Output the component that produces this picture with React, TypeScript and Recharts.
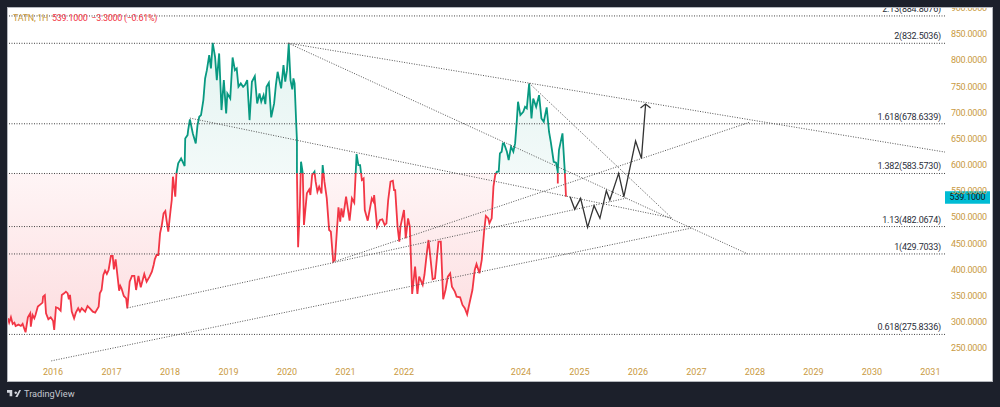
import {
  Area,
  ComposedChart,
  Line,
  ReferenceLine,
  XAxis,
  YAxis,
} from 'recharts';

const FONT = 'Roboto, sans-serif';
const UP = '#089981';
const DOWN = '#f23645';
const AXIS_TEXT = '#c99a3f';
const BASELINE = 583.573;

const priceYears = [
  2015.23, 2015.25, 2015.28, 2015.31, 2015.34, 2015.36, 2015.41, 2015.45, 2015.48, 2015.53, 2015.57, 2015.61, 2015.62,
  2015.65, 2015.68, 2015.7, 2015.74, 2015.78, 2015.82, 2015.83, 2015.86, 2015.88, 2015.92, 2015.96, 2016.0, 2016.02,
  2016.05, 2016.09, 2016.13, 2016.15, 2016.19, 2016.22, 2016.25, 2016.27, 2016.29, 2016.32, 2016.36, 2016.39, 2016.43,
  2016.46, 2016.49, 2016.55, 2016.59, 2016.63, 2016.68, 2016.72, 2016.78, 2016.8, 2016.83, 2016.86, 2016.89, 2016.92,
  2016.95, 2016.99, 2017.02, 2017.04, 2017.07, 2017.1, 2017.13, 2017.15, 2017.17, 2017.21, 2017.25, 2017.27, 2017.31,
  2017.35, 2017.39, 2017.42, 2017.46, 2017.5, 2017.56, 2017.6, 2017.65, 2017.69, 2017.72, 2017.74, 2017.77, 2017.8,
  2017.83, 2017.86, 2017.89, 2017.92, 2017.94, 2017.97, 2018.01, 2018.03, 2018.05, 2018.09, 2018.11, 2018.14, 2018.19,
  2018.25, 2018.26, 2018.3, 2018.31, 2018.34, 2018.39, 2018.44, 2018.47, 2018.5, 2018.53, 2018.57, 2018.6, 2018.63,
  2018.67, 2018.7, 2018.73, 2018.77, 2018.8, 2018.84, 2018.88, 2018.92, 2018.96, 2018.98, 2019.03, 2019.07, 2019.11,
  2019.14, 2019.17, 2019.21, 2019.25, 2019.28, 2019.32, 2019.36, 2019.4, 2019.45, 2019.49, 2019.53, 2019.56, 2019.6,
  2019.63, 2019.65, 2019.69, 2019.73, 2019.78, 2019.81, 2019.84, 2019.87, 2019.9, 2019.94, 2019.97, 2020.0, 2020.03,
  2020.06, 2020.09, 2020.11, 2020.13, 2020.16, 2020.17, 2020.17, 2020.19, 2020.22, 2020.24, 2020.27, 2020.29, 2020.34,
  2020.38, 2020.4, 2020.43, 2020.47, 2020.49, 2020.52, 2020.55, 2020.59, 2020.61, 2020.64, 2020.68, 2020.72, 2020.75,
  2020.79, 2020.82, 2020.88, 2020.91, 2020.93, 2020.96, 2021.01, 2021.07, 2021.11, 2021.15, 2021.19, 2021.22, 2021.25,
  2021.28, 2021.31, 2021.33, 2021.38, 2021.45, 2021.48, 2021.49, 2021.54, 2021.59, 2021.63, 2021.67, 2021.7, 2021.73,
  2021.77, 2021.81, 2021.83, 2021.85, 2021.89, 2021.92, 2021.94, 2022.0, 2022.03, 2022.07, 2022.1, 2022.14, 2022.19,
  2022.23, 2022.26, 2022.32, 2022.35, 2022.39, 2022.42, 2022.45, 2022.49, 2022.53, 2022.59, 2022.63, 2022.67, 2022.71,
  2022.75, 2022.79, 2022.82, 2022.87, 2022.9, 2022.96, 2023.0, 2023.04, 2023.08, 2023.12, 2023.17, 2023.21, 2023.24,
  2023.29, 2023.33, 2023.37, 2023.4, 2023.44, 2023.46, 2023.5, 2023.53, 2023.56, 2023.59, 2023.62, 2023.64, 2023.67,
  2023.69, 2023.71, 2023.76, 2023.79, 2023.83, 2023.87, 2023.9, 2023.93, 2023.95, 2023.99, 2024.04, 2024.07, 2024.1,
  2024.14, 2024.18, 2024.21, 2024.26, 2024.31, 2024.35, 2024.39, 2024.44, 2024.48, 2024.51, 2024.56, 2024.6, 2024.63,
  2024.63, 2024.63, 2024.65, 2024.71, 2024.75, 2024.77,
];

const priceValues = [
  306.7, 298.4, 308.6, 295.8, 298.4, 292, 294.6, 292, 296, 280, 308.6, 316.2, 290.7,
  313, 306.7, 313, 329, 332.8, 336.6, 348, 351, 316, 304.8, 308.6, 302, 284.4,
  327.7, 325.8, 321.3, 351.3, 354.4, 357.6, 354.4, 343, 351.3, 319.4, 306.7, 317.5, 325.8,
  319.4, 325.8, 319.4, 330.2, 325.8, 319.4, 317.5, 329, 354.4, 360.8, 389.5, 397.8, 391.4,
  399, 425.8, 425.8, 400.3, 419.4, 389.5, 359.5, 368.5, 364, 349.3, 344.9, 325.8, 376.7,
  387.6, 387.6, 360.8, 387.6, 365.9, 391.4, 376.7, 386.3, 395.8, 408.6, 419.4, 427.7, 427.7,
  469, 485, 507.3, 511.8, 494.6, 472.3, 513.7, 532.8, 577.4, 539.2, 583.8, 602.9, 612.4,
  597.8, 650.6, 657, 666.6, 687, 660.2, 641, 676.1, 692, 695.2, 723.9, 765.3, 781.2,
  809.9, 784.4, 833.5, 806.7, 762.1, 813.1, 704.8, 762.1, 698.4, 736.6, 727.1, 805.4, 781.2,
  784.4, 749.4, 755.8, 749.4, 752.6, 762.1, 685.7, 759, 769.8, 717.5, 736.6, 720.7, 733.5,
  716.3, 749.4, 757, 690.8, 717.5, 752.6, 778, 762.1, 746.2, 790.8, 759, 781.2, 830.9,
  762.1, 744.3, 765.3, 755.8, 672.9, 647.5, 583.8, 442.4, 520.1, 606.1, 583.8, 485, 545.6,
  553.2, 542.4, 580.6, 587, 567.9, 548.8, 558.3, 545.6, 599.7, 567.9, 536, 475.5, 472.3,
  415, 418.2, 518.8, 491.4, 516.9, 499.7, 539.2, 493.3, 536, 527.7, 620.7, 599.7, 599.7,
  571.1, 574.2, 513.7, 493.3, 536, 529.6, 542.4, 481.9, 494.6, 495.9, 485, 488.2, 532.8,
  567.9, 569.8, 551.9, 551.9, 481.9, 453.2, 481.9, 513.7, 459.6, 497.8, 481.9, 353.2, 405.4,
  353.2, 386.3, 370.4, 389.5, 430.9, 456.4, 424.5, 381.2, 383.1, 453.2, 453.2, 343, 360.8,
  386.3, 392.7, 367.2, 357.6, 348.1, 346.8, 332.2, 325.8, 314.3, 335.4, 360.8, 399, 410.5,
  392.7, 418.2, 472.3, 502.3, 497.8, 488.2, 497.8, 558.3, 580.6, 587, 587, 622, 625.2,
  641.1, 641.1, 625.2, 609.3, 634.8, 625.2, 641.1, 685.6, 720.7, 695.2, 701.6, 711.1, 708,
  755.7, 688.8, 727, 711.1, 733.4, 688.8, 682.5, 709.9, 663.4, 644.2, 606, 604.1, 586.9,
  564.6, 590.1, 628.3, 660.2, 586.9, 539.1,
];

const projectionYears = [2024.84, 2024.92, 2025.02, 2025.14, 2025.25, 2025.35, 2025.46, 2025.52, 2025.67, 2025.76, 2025.96, 2026.06, 2026.13];
const projectionValues = [539.1, 515, 536, 480.6, 522, 497.8, 550.6, 532.8, 583.8, 539.1, 645.6, 612.5, 714.4];

const fibLevels = [
  { value: 884.8076, label: '2.13(884.8076)' },
  { value: 832.5036, label: '2(832.5036)' },
  { value: 678.6339, label: '1.618(678.6339)' },
  { value: 583.573, label: '1.382(583.5730)' },
  { value: 482.0674, label: '1.13(482.0674)' },
  { value: 429.7033, label: '1(429.7033)' },
  { value: 275.8336, label: '0.618(275.8336)' },
];

// [year, price, year, price]
const trendLines = [
  [2020.02, 832.8, 2031.25, 624.5],
  [2020.02, 832.8, 2027.88, 429.6],
  [2024.14, 756.4, 2026.58, 498.4],
  [2018.34, 689.5, 2026.58, 498.4],
  [2017.27, 326.4, 2025.81, 536.6],
  [2020.79, 414.3, 2027.92, 681.9],
  [2015.97, 225.2, 2026.92, 479.3],
];

const yearTicks = [2016, 2017, 2018, 2019, 2020, 2021, 2022, 2024, 2025, 2026, 2027, 2028, 2029, 2030, 2031];
const priceTicks = [250, 300, 350, 400, 450, 500, 550, 600, 650, 700, 750, 800, 850, 900];

const table = [
  ...priceYears.map((year, i) => ({ year, price: priceValues[i] })),
  ...projectionYears.map((year, i) => ({ year, projection: projectionValues[i] })),
];

const maxPrice = Math.max(...priceValues);
const minPrice = Math.min(...priceValues);
const splitAt = `${((maxPrice - BASELINE) / (maxPrice - minPrice)) * 100}%`;

const ArrowDot = ({ cx, cy, index }: any) => {
  if (index !== table.length - 1) return <g key={index} />;
  return (
    <path
      key={index}
      d={`M${cx - 5} ${cy + 3}L${cx} ${cy - 1}L${cx + 5} ${cy + 3}`}
      fill="none"
      stroke="#333"
      strokeWidth={1.2}
    />
  );
};

const PriceTag = ({ viewBox }: any) => (
  <g>
    <rect x={viewBox.x + viewBox.width} y={viewBox.y - 5.5} width={45} height={12.5} fill="#00bcd4" />
    <text
      x={viewBox.x + viewBox.width + 22.5}
      y={viewBox.y + 3.5}
      textAnchor="middle"
      fontSize={9}
      letterSpacing={-0.25}
      fontFamily={FONT}
      fill="#131722"
    >
      539.1000
    </text>
  </g>
);

export default function App() {
  return (
    <div style={{ position: 'fixed', left: 0, top: 0, width: 1000, height: 407, background: '#1c202b', overflow: 'hidden' }}>
      <div
        style={{
          position: 'absolute',
          left: 7,
          top: 7,
          width: 986,
          height: 375,
          boxSizing: 'border-box',
          border: '1px solid #b4b7bd',
          background: '#fff',
          overflow: 'hidden',
        }}
      >
        <div style={{ position: 'absolute', left: -8, top: -8 }}>
          <ComposedChart
            width={1000}
            height={407}
            data={table}
            margin={{ top: 8, right: 0, bottom: 26, left: 8 }}
          >
            <defs>
              <linearGradient id="lineSplit" x1="0" y1="0" x2="0" y2="1">
                <stop offset={splitAt} stopColor={UP} />
                <stop offset={splitAt} stopColor={DOWN} />
              </linearGradient>
              <linearGradient id="fillSplit" x1="0" y1="0" x2="0" y2="1">
                <stop offset="0%" stopColor={UP} stopOpacity={0.11} />
                <stop offset={splitAt} stopColor={UP} stopOpacity={0.05} />
                <stop offset={splitAt} stopColor={DOWN} stopOpacity={0.05} />
                <stop offset="100%" stopColor={DOWN} stopOpacity={0.17} />
              </linearGradient>
            </defs>
            <XAxis
              type="number"
              dataKey="year"
              domain={[2015.23, 2031.25]}
              ticks={yearTicks}
              interval={0}
              axisLine={false}
              tickLine={false}
              tickSize={0}
              tickMargin={8}
              height={20}
              tick={{ fill: AXIS_TEXT, fontSize: 9, fontFamily: FONT }}
            />
            <YAxis
              orientation="right"
              type="number"
              domain={[225, 900]}
              ticks={priceTicks}
              interval={0}
              width={55}
              axisLine={false}
              tickLine={false}
              tickSize={0}
              tickMargin={6}
              tickFormatter={(v: number) => v.toFixed(4)}
              tick={{ fill: AXIS_TEXT, fontSize: 9, fontFamily: FONT, letterSpacing: -0.25 }}
            />
            {fibLevels.map((fib) => (
              <ReferenceLine
                key={fib.label}
                y={fib.value}
                stroke="#444"
                strokeDasharray="1 1.5"
                label={{
                  value: fib.label,
                  position: 'insideBottomRight',
                  offset: 4,
                  fill: '#2a2e39',
                  fontSize: 9,
                  fontFamily: FONT,
                  letterSpacing: -0.2,
                }}
              />
            ))}
            {trendLines.map((t, i) => (
              <ReferenceLine
                key={i}
                segment={[
                  { x: t[0], y: t[1] },
                  { x: t[2], y: t[3] },
                ]}
                stroke="#555"
                strokeDasharray="1 1.5"
              />
            ))}
            <Area
              type="linear"
              dataKey="price"
              baseValue={BASELINE}
              stroke="url(#lineSplit)"
              strokeWidth={1.8}
              fill="url(#fillSplit)"
              fillOpacity={1}
              dot={false}
              activeDot={false}
              isAnimationActive={false}
            />
            <Line
              type="linear"
              dataKey="projection"
              stroke="#333"
              strokeWidth={1.3}
              dot={ArrowDot}
              activeDot={false}
              isAnimationActive={false}
            />
            <ReferenceLine y={539.1} stroke="none" label={PriceTag} />
          </ComposedChart>
        </div>
        <div
          style={{
            position: 'absolute',
            left: 5,
            top: 5,
            fontFamily: FONT,
            fontSize: 9,
            letterSpacing: -0.3,
            whiteSpace: 'pre',
            color: DOWN,
          }}
        >
          <span style={{ color: AXIS_TEXT }}>TATN, 1H</span>
          {'  539.1000  −3.3000 (−0.61%)'}
        </div>
      </div>
      <svg width={14} height={8} viewBox="0 0 16 9" style={{ position: 'absolute', left: 7, top: 390 }}>
        <path d="M0 0H6V7H3V3H0Z M10 1.5a1.5 1.5 0 1 0 0.01 0Z M14 0H16L12 8H9.5Z" fill="#d1d4dc" />
      </svg>
      <div
        style={{
          position: 'absolute',
          left: 24,
          top: 388,
          fontFamily: FONT,
          fontSize: 9.2,
          lineHeight: '12px',
          color: '#c4c7cf',
        }}
      >
        TradingView
      </div>
    </div>
  );
}
